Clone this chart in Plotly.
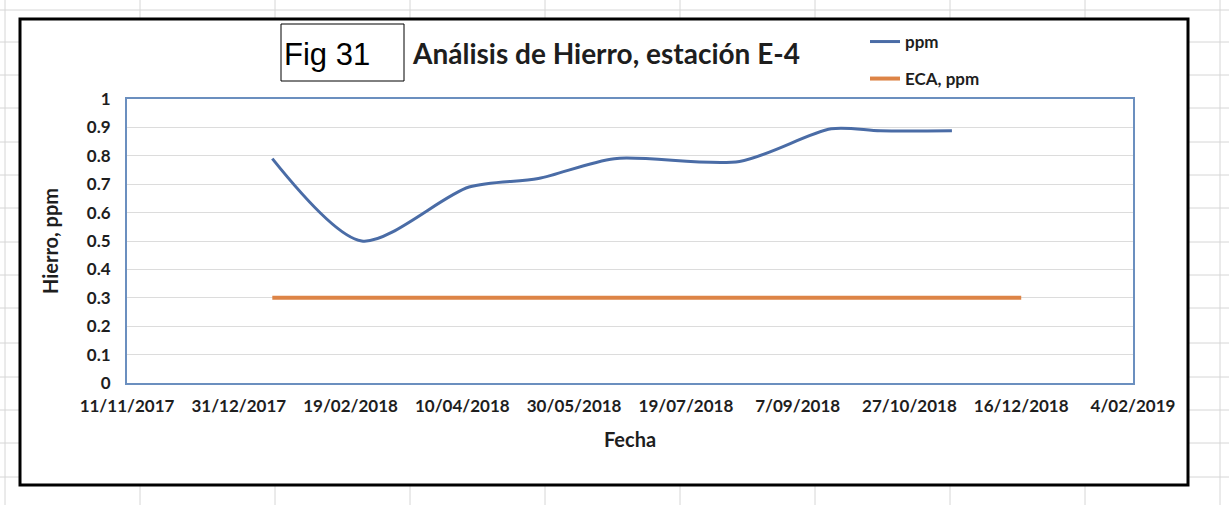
import plotly.graph_objects as go

# ppm series (smoothed line in the original)
ppm_dates = ["2018-01-15", "2018-02-24", "2018-04-13", "2018-05-14",
             "2018-06-17", "2018-08-12", "2018-09-22", "2018-10-14", "2018-11-15"]
ppm_values = [0.79, 0.50, 0.69, 0.72, 0.79, 0.78, 0.895, 0.888, 0.888]

# ECA limit
eca_dates = ["2018-01-15", "2018-02-24", "2018-04-13", "2018-05-14", "2018-06-17",
             "2018-08-12", "2018-09-22", "2018-10-14", "2018-11-15", "2018-12-16"]
eca_values = [0.3, 0.3, 0.3, 0.3, 0.3, 0.3, 0.3, 0.3, 0.3, 0.3]

x_tick_dates = ["2017-11-11", "2017-12-31", "2018-02-19", "2018-04-10", "2018-05-30",
                "2018-07-19", "2018-09-07", "2018-10-27", "2018-12-16", "2019-02-04"]
x_tick_labels = ["11/11/2017", "31/12/2017", "19/02/2018", "10/04/2018", "30/05/2018",
                 "19/07/2018", "7/09/2018", "27/10/2018", "16/12/2018", "4/02/2019"]
y_tick_vals = [0, 0.1, 0.2, 0.3, 0.4, 0.5, 0.6, 0.7, 0.8, 0.9, 1]
y_tick_labels = ["0", "0.1", "0.2", "0.3", "0.4", "0.5", "0.6", "0.7", "0.8", "0.9", "1"]

W, H = 1229, 505
L, R, T, B = 127, 1133, 99, 383

BLUE = "#4a6ca6"
ORANGE = "#dd8446"
TXT = "#1e1e1e"
FONT = "Lato"


def xp(px):
    return (px - L) / (R - L)


def yp(py):
    return (B - py) / (B - T)


fig = go.Figure()

fig.add_trace(go.Scatter(
    x=ppm_dates, y=ppm_values, name="ppm", mode="lines",
    line=dict(color=BLUE, width=3, shape="spline", smoothing=0.8),
    legend="legend",
))
fig.add_trace(go.Scatter(
    x=eca_dates, y=eca_values, name="ECA, ppm", mode="lines",
    line=dict(color=ORANGE, width=4),
    legend="legend2",
))

# spreadsheet grid behind the chart
shapes = []
for gx in [5, 140, 275, 410, 545, 680, 815, 950, 1085, 1220]:
    shapes.append(dict(type="line", xref="paper", yref="paper", layer="below",
                       x0=xp(gx), x1=xp(gx), y0=yp(0), y1=yp(H),
                       line=dict(color="#d6d6d6", width=1)))
for gy in [10, 42, 75, 108, 142, 175, 208, 242, 275, 308, 343, 377, 410, 443, 477]:
    shapes.append(dict(type="line", xref="paper", yref="paper", layer="below",
                       x0=xp(0), x1=xp(W), y0=yp(gy), y1=yp(gy),
                       line=dict(color="#d6d6d6", width=1)))
# chart area
shapes.append(dict(type="rect", xref="paper", yref="paper", layer="below",
                   x0=xp(20), x1=xp(1188), y0=yp(19), y1=yp(485),
                   fillcolor="white", line=dict(color="black", width=3)))
# Fig 31 box
shapes.append(dict(type="rect", xref="paper", yref="paper",
                   x0=xp(281), x1=xp(404), y0=yp(24), y1=yp(81),
                   fillcolor="white", line=dict(color="black", width=1)))

annotations = [
    dict(text="Fig 31", xref="paper", yref="paper", x=xp(282), y=yp(54),
         xanchor="left", yanchor="middle", showarrow=False,
         font=dict(family="Liberation Sans", size=31, color="black")),
    dict(text="Análisis de Hierro, estación E-4", xref="paper", yref="paper",
         x=xp(410), y=yp(53), xanchor="left", yanchor="middle", showarrow=False,
         font=dict(family=FONT, size=28, color=TXT, weight="bold")),
]

legend_style = dict(
    xref="paper", yref="paper", xanchor="left", yanchor="middle",
    bgcolor="rgba(0,0,0,0)", itemwidth=30,
    font=dict(family=FONT, size=17, color=TXT, weight="bold"),
)

fig.update_layout(
    width=W, height=H,
    margin=dict(l=L, r=W - R, t=T, b=H - B),
    paper_bgcolor="white",
    plot_bgcolor="white",
    showlegend=True,
    legend=dict(x=xp(865), y=yp(42), **legend_style),
    legend2=dict(x=xp(865), y=yp(79), **legend_style),
    shapes=shapes,
    annotations=annotations,
    font=dict(family=FONT, color=TXT),
)

fig.update_xaxes(
    type="date", range=["2017-11-11", "2019-02-04"],
    tickvals=x_tick_dates, ticktext=x_tick_labels,
    showgrid=False, zeroline=False,
    showline=True, mirror=True, linecolor="#6b8fbf", linewidth=2,
    ticks="", ticklabelstandoff=7,
    tickfont=dict(family=FONT, size=17, color=TXT, weight="bold"),
    title=dict(text="Fecha", standoff=18,
               font=dict(family=FONT, size=20, color=TXT, weight="bold")),
)
fig.update_yaxes(
    range=[0, 1], tickvals=y_tick_vals, ticktext=y_tick_labels,
    showgrid=True, gridcolor="#dcdcdc", gridwidth=1, zeroline=False,
    showline=True, mirror=True, linecolor="#6b8fbf", linewidth=2,
    ticks="", ticklabelstandoff=11,
    tickfont=dict(family=FONT, size=17, color=TXT, weight="bold"),
    title=dict(text="Hierro, ppm", standoff=23,
               font=dict(family=FONT, size=20, color=TXT, weight="bold")),
)

fig.write_html("out.html", config={"displayModeBar": False},
               post_script="document.body.style.margin = '0';")
